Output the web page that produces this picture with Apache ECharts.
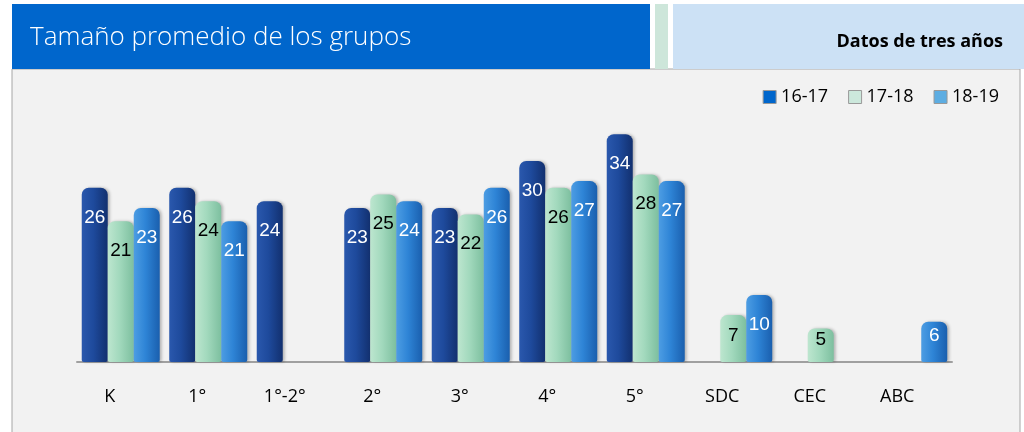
<!DOCTYPE html>
<html><head><meta charset="utf-8">
<script src="https://cdn.jsdelivr.net/npm/echarts@6/dist/echarts.min.js"></script>
<style>html,body{margin:0;padding:0;background:#fff;}#c{width:1024px;height:432px;}</style>
</head><body><div id="c"></div>
<script>
const categories = ['K','1°','1°-2°','2°','3°','4°','5°','SDC','CEC','ABC'];
const seriesNames = ['16-17','17-18','18-19'];
const v1617 = [26,26,24,23,23,30,34,null,null,null];
const v1718 = [21,24,null,25,22,26,28,7,5,null];
const v1819 = [23,21,null,24,26,27,27,10,null,6];
const title = 'Tamaño promedio de los grupos';
const subtitle = 'Datos de tres años';

const chart = echarts.init(document.getElementById('c'));
function grad(a,b,c){return {type:'linear',x:0,y:0,x2:1,y2:0,colorStops:[{offset:0,color:a},{offset:0.45,color:b},{offset:1,color:c}]};}
const styles = [
  {color:grad('#2a58ad','#1e4a9c','#12306f'), legend:'#0066cc', label:'#fff'},
  {color:grad('#bde6cf','#a2d9bd','#7dbf9f'), legend:'#cce8dc', label:'#000'},
  {color:grad('#4d9de3','#2e84d6','#1a5fae'), legend:'#5dade2', label:'#fff'}
];
const PX = 6.7;
function mk(vals){return vals.map(v=>{
  if(v==null) return null;
  const h=v*PX; const d = h<50 ? Math.max(2,h-36) : 20;
  return {value:v,label:{distance:d}};
});}
const all=[v1617,v1718,v1819];
chart.setOption({
  animation:false,
  backgroundColor:'#fff',
  graphic:[
    {type:'rect',shape:{x:12,y:69,width:1008,height:370},style:{fill:'#f2f2f2',stroke:'#a6a6a6',lineWidth:1},z:-10},
    {type:'rect',shape:{x:12,y:4,width:638,height:65},style:{fill:'#0066cc'},z:-5},
    {type:'rect',shape:{x:655,y:4,width:13,height:65},style:{fill:'#cde6da'},z:-5},
    {type:'rect',shape:{x:673,y:4,width:351,height:65},style:{fill:'#cce1f5'},z:-5},
    {type:'text',left:30,top:25,style:{text:title,fill:'#fff',font:'300 26px "Open Sans", "Noto Sans", sans-serif'}},
    {type:'text',right:21,top:33,style:{text:subtitle,fill:'#000',font:'bold 18px "Open Sans", "Noto Sans", sans-serif'}}
  ],
  legend:{
    right:20, top:83, itemWidth:13, itemHeight:13, itemGap:20, icon:'rect',
    textStyle:{fontSize:18,color:'#000',fontFamily:'"Open Sans","Noto Sans",sans-serif'},
    data: seriesNames.map((n,i)=>({name:n,itemStyle:{color:styles[i].legend,borderColor:'#999',borderWidth:1}}))
  },
  grid:{left:77,right:72,top:94,bottom:70},
  xAxis:{type:'category',data:categories,
    axisLine:{show:true,lineStyle:{color:'#a0a0a0',width:2}},axisTick:{show:false},
    axisLabel:{color:'#000',fontSize:18,margin:26,padding:[0,22,0,0],fontFamily:'"Open Sans","Noto Sans",sans-serif'}},
  yAxis:{type:'value',min:0,max:40,show:false,splitLine:{show:false}},
  series: all.map((vals,i)=>({
    name:seriesNames[i], type:'bar', data:mk(vals), barWidth:26, barGap:'0%',
    itemStyle:{color:styles[i].color,borderRadius:[7,7,2,2],shadowColor:'rgba(0,0,0,0.25)',shadowBlur:3,shadowOffsetX:2},
    label:{show:true,position:'insideTop',distance:20,color:styles[i].label,fontSize:19,fontFamily:'"Liberation Sans",Arial,sans-serif'}
  }))
});
</script></body></html>
